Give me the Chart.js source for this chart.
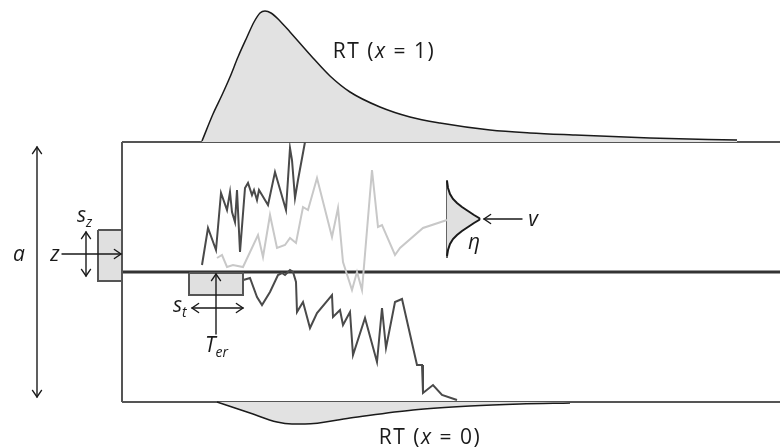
<!DOCTYPE html>
<html lang="en">
<head>
<meta charset="UTF-8">
<title>Diffusion model</title>
<script src="https://cdn.jsdelivr.net/npm/chart.js"></script>
<style>
  body { margin: 0; background: #fff; }
  #chart { display: block; }
</style>
</head>
<body>
<canvas id="chart" width="780" height="448"></canvas>
<script>
// figure units: x = time (left to right), y = drawn top-down (reversed axis)
const topBoundary = [[122, 142], [780, 142]];
const bottomBoundary = [[122, 402], [780, 402]];
const leftEdge = [[122, 142], [122, 402]];
const startLine = [[122, 272], [780, 272]];

// RT density for upper boundary (x = 1)
const rtUpper = [[202, 141], [213, 114], [222, 95], [230, 77], [238, 57], [247, 37], [254, 22], [260, 13],
  [265, 11], [271, 13], [280, 21], [290, 32], [313, 58], [330, 76], [350, 92], [380, 107], [410, 117],
  [440, 123], [490, 130], [530, 133], [573, 135], [650, 138], [737, 140]];
// RT density for lower boundary (x = 0)
const rtLower = [[217, 402], [250, 413], [277, 422], [292, 424], [305, 424], [350, 418], [413, 410],
  [470, 406], [520, 404], [570, 403]];

// sample paths
const pathUp = [[202, 265], [208, 228], [216, 250], [221, 193], [227, 210], [230, 192], [232, 212],
  [235, 222], [237, 190], [240, 252], [245, 188], [248, 183], [252, 195], [254, 190], [257, 200],
  [259, 190], [262, 195], [268, 205], [275, 172], [286, 210], [290, 148], [292, 160], [295, 198],
  [298, 180], [305, 142]];
const pathMid = [[217, 258], [222, 255], [227, 267], [233, 265], [243, 267], [258, 235], [263, 257],
  [270, 215], [277, 248], [285, 245], [290, 238], [296, 243], [303, 207], [308, 210], [317, 178],
  [332, 237], [338, 208], [343, 262], [352, 290], [357, 272], [362, 290], [372, 170], [378, 227],
  [382, 225], [395, 255], [400, 248], [423, 228], [447, 220]];
const pathDown = [[228, 277], [232, 283], [240, 281], [250, 278], [257, 297], [262, 305], [270, 292],
  [278, 275], [282, 273], [285, 275], [290, 270], [293, 272], [296, 282], [297, 312], [303, 302],
  [310, 328], [317, 313], [332, 295], [333, 317], [340, 310], [343, 325], [350, 312], [353, 355],
  [365, 318], [377, 362], [382, 308], [386, 348], [395, 302], [402, 299], [417, 365], [422, 365],
  [423, 393], [433, 385], [442, 395], [457, 400]];

// variability boxes (starting point, non-decision time)
const zBox = [[98, 230], [122, 230], [122, 281], [98, 281], [98, 230]];
const terBox = [[189, 273], [243, 273], [243, 295], [189, 295], [189, 273]];

// drift distribution (upper and lower half of the bell, meeting at the mean)
const driftAxis = [[447, 180], [447, 258]];
const driftTop = [[447, 181], [448, 188], [450, 194], [453, 199], [457, 203], [462, 207], [468, 211],
  [474, 215], [479, 218], [480, 219]];
const driftBottom = [[480, 219], [479, 220], [474, 223], [468, 227], [462, 231], [457, 235],
  [453, 239], [450, 244], [448, 250], [447, 256]];
const driftMeanY = 219;
const driftMean = [[447, 219], [478, 219]];
const driftSd = [[463, 219], [463, 231]];

// arrows: from, to, both ends?
const arrows = [
  { from: [37, 147], to: [37, 397], both: true },
  { from: [62, 254], to: [121, 254], both: false },
  { from: [86, 232], to: [86, 276], both: true },
  { from: [216, 334], to: [216, 274], both: false },
  { from: [192, 308], to: [243, 308], both: true },
  { from: [522, 219], to: [484, 219], both: false }
];

// labels: position and pieces [text, italic, subscript]
const labels = [
  { at: [384, 58], align: 'center', parts: [['RT (', 0, 0], ['x', 1, 0], [' = 1)', 0, 0]] },
  { at: [430, 444], align: 'center', parts: [['RT (', 0, 0], ['x', 1, 0], [' = 0)', 0, 0]] },
  { at: [19, 261], align: 'center', parts: [['a', 1, 0]] },
  { at: [55, 261], align: 'center', parts: [['z', 1, 0]] },
  { at: [77, 222], align: 'left', parts: [['s', 1, 0], ['z', 1, 1]] },
  { at: [173, 312], align: 'left', parts: [['s', 1, 0], ['t', 1, 1]] },
  { at: [205, 352], align: 'left', parts: [['T', 1, 0], ['er', 1, 1]] },
  { at: [474, 249], align: 'center', parts: [['η', 1, 0]] },
  { at: [533, 226], align: 'center', parts: [['v', 1, 0]] }
];

const pts = arr => arr.map(p => ({ x: p[0], y: p[1] }));

function line(data, color, width, extra) {
  return Object.assign({
    data: pts(data), showLine: true, borderColor: color, borderWidth: width,
    pointRadius: 0, fill: false, tension: 0
  }, extra || {});
}

const fontFamily = '"Open Sans", "Noto Sans", sans-serif';

const annotate = {
  id: 'annotate',
  afterDatasetsDraw(chart) {
    const ctx = chart.ctx;
    const xs = chart.scales.x, ys = chart.scales.y;
    const px = p => [xs.getPixelForValue(p[0]), ys.getPixelForValue(p[1])];
    ctx.save();
    ctx.strokeStyle = '#1a1a1a';
    ctx.lineWidth = 1.4;
    ctx.lineCap = 'round';
    const head = (tip, tail) => {
      const ang = Math.atan2(tip[1] - tail[1], tip[0] - tail[0]);
      const len = 8, spread = 0.6;
      ctx.beginPath();
      ctx.moveTo(tip[0] - len * Math.cos(ang - spread), tip[1] - len * Math.sin(ang - spread));
      ctx.lineTo(tip[0], tip[1]);
      ctx.lineTo(tip[0] - len * Math.cos(ang + spread), tip[1] - len * Math.sin(ang + spread));
      ctx.stroke();
    };
    arrows.forEach(a => {
      const f = px(a.from), t = px(a.to);
      ctx.beginPath();
      ctx.moveTo(f[0], f[1]);
      ctx.lineTo(t[0], t[1]);
      ctx.stroke();
      head(t, f);
      if (a.both) head(f, t);
    });

    ctx.fillStyle = '#1a1a1a';
    ctx.textBaseline = 'alphabetic';
    ctx.textAlign = 'left';
    const fontFor = (it, sub) => (it ? 'italic ' : '') + (sub ? '14px ' : '21px ') + fontFamily;
    labels.forEach(l => {
      const p = px(l.at);
      const big = l.parts.length > 2;
      ctx.letterSpacing = big ? '1.5px' : '0px';
      let w = 0;
      l.parts.forEach(q => { ctx.font = fontFor(q[1], q[2]); w += ctx.measureText(q[0]).width; });
      let x = l.align === 'center' ? p[0] - w / 2 : p[0];
      l.parts.forEach(q => {
        ctx.font = fontFor(q[1], q[2]);
        ctx.fillText(q[0], x, p[1] + (q[2] ? 5 : 0));
        x += ctx.measureText(q[0]).width;
      });
    });
    ctx.restore();
  }
};

new Chart(document.getElementById('chart'), {
  type: 'scatter',
  data: {
    datasets: [
      line(rtUpper, '#1a1a1a', 1.5, { backgroundColor: '#e2e2e2', fill: { value: 142 }, cubicInterpolationMode: 'monotone' }),
      line(rtLower, '#1a1a1a', 1.5, { backgroundColor: '#e2e2e2', fill: { value: 402 }, cubicInterpolationMode: 'monotone' }),
      line(zBox, '#555', 2, { backgroundColor: '#e0e0e0', fill: 'shape' }),
      line(terBox, '#555', 2, { backgroundColor: '#e0e0e0', fill: 'shape' }),
      line(pathMid, '#c8c8c8', 2),
      line(pathUp, '#4a4a4a', 2),
      line(pathDown, '#4a4a4a', 2),
      line(driftTop, '#1a1a1a', 2, { backgroundColor: '#e0e0e0', fill: { value: driftMeanY } }),
      line(driftBottom, '#1a1a1a', 2, { backgroundColor: '#e0e0e0', fill: { value: driftMeanY } }),
      line(driftAxis, '#333', 1.5),
      line(driftMean, '#777', 1.3, { borderDash: [4, 3] }),
      line(driftSd, '#777', 1.3),
      line(topBoundary, '#555', 2),
      line(bottomBoundary, '#555', 2),
      line(leftEdge, '#555', 2),
      line(startLine, '#333', 3)
    ]
  },
  options: {
    responsive: false,
    devicePixelRatio: 1,
    animation: false,
    layout: { padding: 0 },
    plugins: { legend: { display: false }, tooltip: { enabled: false } },
    scales: {
      x: { type: 'linear', min: 0, max: 780, display: false },
      y: { type: 'linear', min: 0, max: 448, reverse: true, display: false }
    }
  },
  plugins: [annotate]
});
</script>
</body>
</html>
